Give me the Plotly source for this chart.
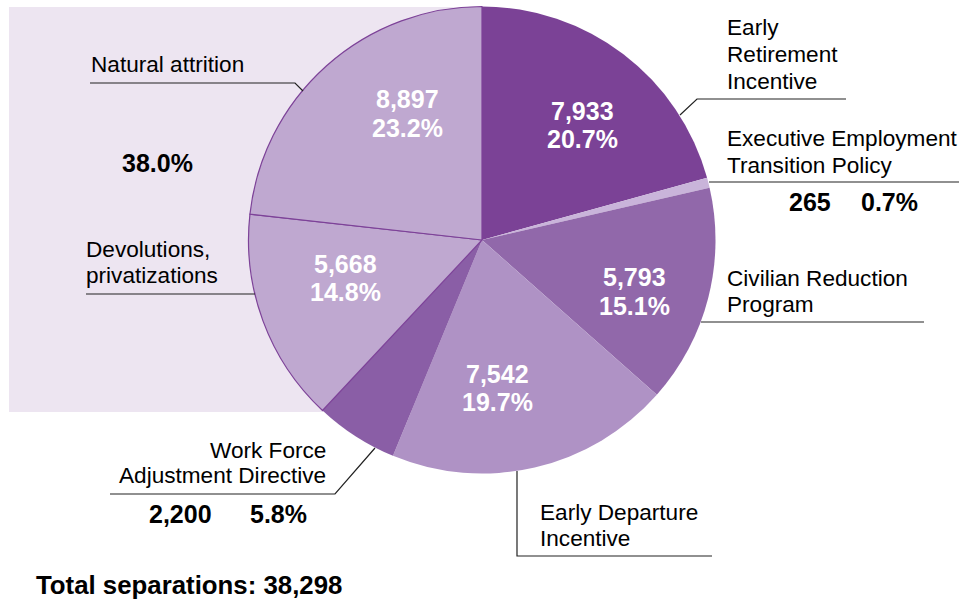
import plotly.graph_objects as go

W, H = 959, 602

# Separations by program (clockwise from 12 o'clock)
programs = [
    "Early Retirement Incentive",
    "Executive Employment Transition Policy",
    "Civilian Reduction Program",
    "Early Departure Incentive",
    "Work Force Adjustment Directive",
    "Devolutions, privatizations",
    "Natural attrition",
]
separations = [7933, 265, 5793, 7542, 2200, 5668, 8897]
percent_labels = ["20.7%", "0.7%", "15.1%", "19.7%", "5.8%", "14.8%", "23.2%"]
group_share_label = "38.0%"
total_label = "Total separations: 38,298"

slice_colors = ["#7B4296", "#C9B4DA", "#9168AA", "#AF92C5", "#8A5EA6", "#BFA8D0", "#BFA8D0"]
outline_widths = [0, 0, 0, 0, 0, 1.2, 1.2]
outline_color = "#7D4298"

FONT = "Liberation Sans, Arial, Helvetica, sans-serif"


def px(x):
    return x / W


def py(y):
    return 1 - y / H


# Pie geometry in pixels
cx, cy, r = 482, 240, 233.5

fig = go.Figure()
fig.add_trace(go.Pie(
    labels=programs,
    values=separations,
    sort=False,
    direction="clockwise",
    rotation=0,
    textinfo="none",
    hoverinfo="label+value+percent",
    marker=dict(colors=slice_colors,
                line=dict(color=outline_color, width=outline_widths)),
    domain=dict(x=[px(cx - r), px(cx + r)], y=[py(cy + r), py(cy - r)]),
    showlegend=False,
))

annotations = []


def add_text(s, x, y, size, bold=False, color="#000000", xanchor="left"):
    annotations.append(dict(
        text=f"<b>{s}</b>" if bold else s,
        x=px(x), y=py(y), xref="paper", yref="paper",
        xanchor=xanchor, yanchor="middle", showarrow=False,
        borderpad=0, borderwidth=0,
        font=dict(family=FONT, size=size, color=color),
    ))


# Value / percent labels inside the slices (centre x, line-1 y, line-2 y)
inside_pos = {0: (582, 111, 139), 2: (634.5, 277, 306), 3: (497, 373.5, 402),
              5: (345, 263.5, 291.5), 6: (407.5, 99.5, 128)}
for i, (x, y1, y2) in inside_pos.items():
    add_text(f"{separations[i]:,}", x, y1, 25, True, "white", "center")
    add_text(percent_labels[i], x, y2, 25, True, "white", "center")

# Value / percent labels outside the small slices
outside_pos = {1: (810, 889.5, 202), 4: (180, 278, 513.5)}
for i, (xv, xp, y) in outside_pos.items():
    add_text(f"{separations[i]:,}", xv, y, 25, True, "#000000", "center")
    add_text(percent_labels[i], xp, y, 25, True, "#000000", "center")

# Program names, one line each
name_lines = [
    ("Early", 727, 27.5, "left"),
    ("Retirement", 727, 55, "left"),
    ("Incentive", 727, 81, "left"),
    ("Executive Employment", 727, 138, "left"),
    ("Transition Policy", 727, 165, "left"),
    ("Civilian Reduction", 727, 278, "left"),
    ("Program", 727, 304, "left"),
    ("Early Departure", 540, 512, "left"),
    ("Incentive", 540, 538, "left"),
    ("Work Force", 326, 450, "right"),
    ("Adjustment Directive", 326, 475, "right"),
    ("Devolutions,", 86, 250, "left"),
    ("privatizations", 86, 275, "left"),
    ("Natural attrition", 91, 65, "left"),
]
for s, x, y, anchor in name_lines:
    add_text(s, x, y, 22.6, False, "#000000", anchor)

add_text(group_share_label, 157, 163.5, 25, True, "#000000", "center")
add_text(total_label, 36, 584.5, 25.8, True, "#000000", "left")

# Leader lines from slices to their names
leaders = [
    [(680, 115), (697, 99), (846, 99)],
    [(709, 182), (959, 182)],
    [(701, 322), (924, 322)],
    [(517, 471), (517, 556), (712, 556)],
    [(375, 448), (335, 494), (110, 494)],
    [(255, 294), (86, 294)],
    [(303, 91), (295, 83), (90, 83)],
]
shapes = [dict(type="rect", xref="paper", yref="paper", layer="below",
               x0=px(9), x1=px(cx), y0=py(412), y1=py(7),
               fillcolor="#EDE5F1", line=dict(width=0))]
for pts in leaders:
    path = "M " + " L ".join(f"{px(x):.5f},{py(y):.5f}" for x, y in pts)
    shapes.append(dict(type="path", xref="paper", yref="paper", path=path,
                       line=dict(color="#222222", width=1.2)))

fig.update_layout(
    width=W, height=H, autosize=False,
    margin=dict(l=0, r=0, t=0, b=0),
    paper_bgcolor="white", plot_bgcolor="white",
    annotations=annotations, shapes=shapes,
)

fig.write_html("out.html")
